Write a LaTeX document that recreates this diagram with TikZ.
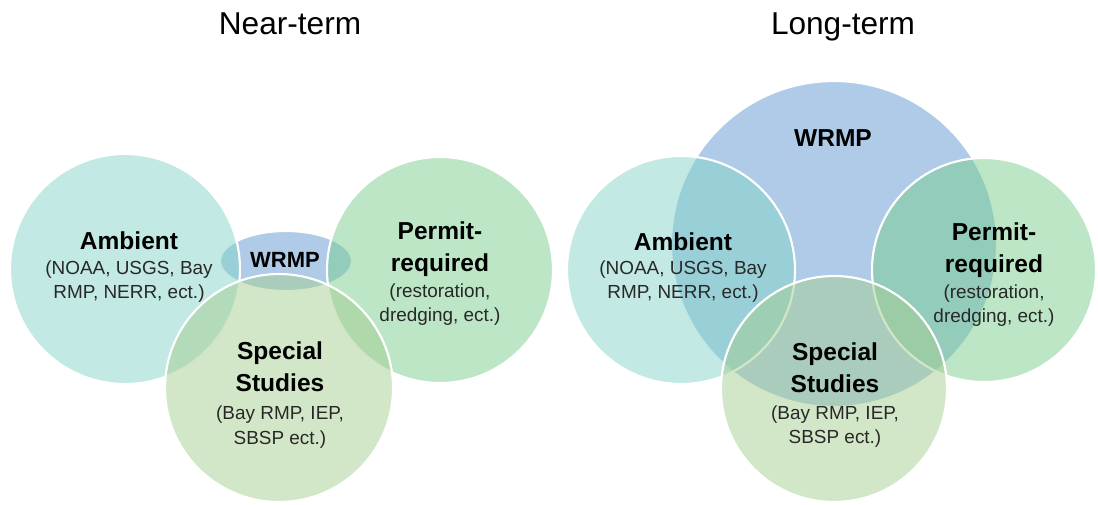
\documentclass[tikz,border=0pt]{standalone}
\usepackage{fontspec}
\setmainfont{Liberation Sans}
\usetikzlibrary{positioning}

\definecolor{ambfill}{RGB}{133,211,199}
\definecolor{perfill}{RGB}{121,205,141}
\definecolor{spefill}{RGB}{165,205,145}
\definecolor{wrmfill}{RGB}{95,151,209}
\definecolor{notetext}{RGB}{40,40,40}

\tikzset{every picture/.style={line width=0.75pt}}
\tikzset{
  venn/.style={draw=white, line width=1.6pt, fill opacity=0.5},
  headtxt/.style={font=\bfseries\fontsize{18.4}{23.5}\selectfont, align=center, inner sep=0pt, anchor=base},
  notetxt/.style={font=\fontsize{14.2}{17.6}\selectfont, align=center, inner sep=0pt, anchor=base, text=notetext},
  titletxt/.style={font=\fontsize{23.7}{28}\selectfont, inner sep=0pt, anchor=base}
}

\begin{document}
\begin{tikzpicture}[x=0.75pt,y=0.75pt,yscale=-1,xscale=1]
	\useasboundingbox (0,0) rectangle (1098,504);

	% Text Node
	\node[titletxt] (near) at (290,34) {Near-term};
	% Text Node
	\node[titletxt] (long) at (843,34) {Long-term};

	%% Near-term
	%Shape: Ellipse [wrmp]
	\draw[venn, fill=wrmfill] (286,261) ellipse [x radius=66, y radius=30];
	%Shape: Circle [ambient]
	\draw[venn, fill=ambfill] (125,269) circle [radius=115];
	%Shape: Circle [permit]
	\draw[venn, fill=perfill] (440,270) circle [radius=113];
	%Shape: Circle [special]
	\draw[venn, fill=spefill] (279,388) circle [radius=114];

	% Text Node
	\node[headtxt, font=\bfseries\fontsize{16.5}{20}\selectfont] (wrmp-n) at (285,267) {WRMP};
	% Text Node
	\node[headtxt] (amb-n) at (129,249) {Ambient};
	\node[notetxt] (ambnote-n) at (129,298) {(NOAA, USGS, Bay\\RMP, NERR, ect.)};
	% Text Node
	\node[headtxt] (per-n) at (440,271) {Permit-\\required};
	\node[notetxt] (pernote-n) at (440,321) {(restoration,\\dredging, ect.)};
	% Text Node
	\node[headtxt, font=\bfseries\fontsize{18.4}{24}\selectfont] (spe-n) at (280,391) {Special\\Studies};
	\node[notetxt, font=\fontsize{14.2}{18.5}\selectfont] (spenote-n) at (280,444) {(Bay RMP, IEP,\\SBSP ect.)};

	%% Long-term
	%Shape: Circle [wrmp]
	\draw[venn, fill=wrmfill] (834,244) circle [radius=163];
	%Shape: Circle [ambient]
	\draw[venn, fill=ambfill] (681,270) circle [radius=114];
	%Shape: Circle [permit]
	\draw[venn, fill=perfill] (984,270) circle [radius=112];
	%Shape: Circle [special]
	\draw[venn, fill=spefill] (834,389) circle [radius=113];

	% Text Node
	\node[headtxt] (wrmp-l) at (833,146) {WRMP};
	% Text Node
	\node[headtxt] (amb-l) at (683,250) {Ambient};
	\node[notetxt] (ambnote-l) at (683,298) {(NOAA, USGS, Bay\\RMP, NERR, ect.)};
	% Text Node
	\node[headtxt] (per-l) at (994,272) {Permit-\\required};
	\node[notetxt] (pernote-l) at (994,322) {(restoration,\\dredging, ect.)};
	% Text Node
	\node[headtxt, font=\bfseries\fontsize{18.4}{24}\selectfont] (spe-l) at (835,392) {Special\\Studies};
	\node[notetxt, font=\fontsize{14.2}{18}\selectfont] (spenote-l) at (835,443) {(Bay RMP, IEP,\\SBSP ect.)};

\end{tikzpicture}
\end{document}
